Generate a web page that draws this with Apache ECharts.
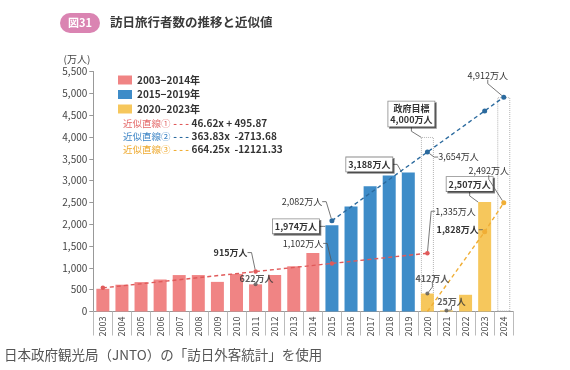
<!DOCTYPE html>
<html>
<head>
<meta charset="utf-8">
<script src="https://cdn.jsdelivr.net/npm/echarts@6/dist/echarts.min.js"></script>
<style>
html,body{margin:0;padding:0;background:#fff;}
#chart{width:570px;height:370px;}
</style>
</head>
<body>
<div id="chart"></div>
<script>
// ---------- data ----------
const years = ['2003','2004','2005','2006','2007','2008','2009','2010','2011','2012','2013','2014',
               '2015','2016','2017','2018','2019','2020','2021','2022','2023','2024'];
const years2003to2014 = ['2003','2004','2005','2006','2007','2008','2009','2010','2011','2012','2013','2014'];
const visitors2003to2014 = [521, 614, 673, 733, 835, 835, 679, 861, 622, 836, 1036, 1341];
const years2015to2019 = ['2015','2016','2017','2018','2019'];
const visitors2015to2019 = [1974, 2404, 2869, 3119, 3188];
const years2020to2023 = ['2020','2021','2022','2023'];
const visitors2020to2023 = [412, 25, 383, 2507];
const targetYears = ['2020','2024'];
const targetValues = [4000, 4912];
const trend1Years = ['2003','2011','2015','2020'];
const trend1Values = [542, 915, 1102, 1335];
const trend2Years = ['2015','2020','2023','2024'];
const trend2Values = [2082, 3654, 4597, 4912];
const trend3Years = ['2020','2023','2024'];
const trend3Values = [0, 1828, 2492];
const markedYears = ['2011','2020','2021'];
const markedValues = [622, 412, 25];
const periodNames = ['2003−2014年','2015−2019年','2020−2023年'];
const trendNames = ['近似直線①','近似直線②','近似直線③'];
const trendEquations = ['46.62x + 495.87','363.83x  -2713.68','664.25x  -12121.33'];
const titleText = '訪日旅行者数の推移と近似値';
const figureTag = '図31';
const sourceNote = '日本政府観光局（JNTO）の「訪日外客統計」を使用';
const targetLabelPrefix = '政府目標';
const unitText = '万人';

// ---------- annotation styling (label offsets from anchor, px) ----------
const annot = {
  'p2|2015':  {off: [-36, 1],   bold: true},
  'p2|2019':  {off: [-39, -8],  bold: true},
  'p3|2023':  {off: [-15, -18], bold: true},
  'tg|2020':  {off: [-16, -23], bold: true},
  't1|2011':  {off: [-25, -19], bold: true},
  't1|2015':  {off: [-29, -20], bold: false},
  't1|2020':  {off: [28, -42],  bold: false},
  't2|2015':  {off: [-30, -19], bold: false},
  't2|2020':  {off: [31, 5],    bold: false},
  't2|2024':  {off: [-16, -22], bold: false},
  't3|2023':  {off: [-27, -2],  bold: true},
  't3|2024':  {off: [-15, -32], bold: false},
  'mk|2011':  {off: [1, -6],    bold: true, noLine: true},
  'mk|2020':  {off: [5, -15],   bold: true},
  'mk|2021':  {off: [5, -9],    bold: true}
};

const FONT = "'Noto Sans CJK JP', 'Noto Sans', sans-serif";
const fmtNum = v => String(v).replace(/\B(?=(\d{3})+(?!\d))/g, ',');

function build(key, ys, vals, opts) {
  opts = opts || {};
  return years.map(y => {
    const i = ys.indexOf(y);
    if (i < 0) return null;
    const v = vals[i];
    const a = annot[key + '|' + y];
    const item = {value: v};
    if (opts.hideSymbolAt && opts.hideSymbolAt.indexOf(y) >= 0) item.symbol = 'none';
    if (a) {
      item.label = {show: true, fontWeight: a.bold ? 'bold' : 'normal'};
      if (a.noLine) item.labelLine = {show: false};
    }
    return item;
  });
}

function layoutFor(key, anchorTop) {
  return function (p) {
    const a = annot[key + '|' + years[p.dataIndex]];
    if (!a) return {};
    const r = p.rect;
    const cx = r.x + r.width / 2;
    const cy = anchorTop ? r.y : r.y + r.height / 2;
    return {x: cx + a.off[0], y: cy + a.off[1], align: 'center', verticalAlign: 'middle'};
  };
}

const plainLabel = {
  show: false, fontSize: 9, color: '#333', fontFamily: FONT,
  formatter: p => fmtNum(p.value) + unitText
};
const boxLabel = {
  show: false, fontSize: 9, color: '#333', fontFamily: FONT, fontWeight: 'bold',
  backgroundColor: '#fff', borderColor: '#8a8a8a', borderWidth: 0.8,
  padding: [2, 2, 1, 2], lineHeight: 11,
  shadowColor: 'rgba(0,0,0,0.45)', shadowOffsetX: 1.5, shadowOffsetY: 1.5, shadowBlur: 0,
  formatter: p => fmtNum(p.value) + unitText
};
const guide = {show: true, length2: 4, lineStyle: {color: '#555', width: 0.8}};

const colors = {
  red: '#f08484', blue: '#3e8cc8', yellow: '#f6c75c',
  redLine: '#e05a5a', blueLine: '#2b6a9e', orangeLine: '#f0ae35',
  redText: '#e46a6a', blueText: '#3f86c6', orangeText: '#eeaa30'
};

const chart = echarts.init(document.getElementById('chart'), null, {renderer: 'canvas'});

const option = {
  animation: false,
  textStyle: {fontFamily: FONT},
  title: [
    {text: titleText, left: 110, top: 16, padding: 0,
     textStyle: {fontSize: 12.5, fontWeight: 'bold', color: '#3a3a3a', fontFamily: FONT}},
    {text: sourceNote, left: 4, top: 348, padding: 0,
     textStyle: {fontSize: 13.5, fontWeight: 'normal', color: '#555', fontFamily: FONT}}
  ],
  graphic: [{
    type: 'group', left: 60, top: 13,
    children: [
      {type: 'rect', shape: {x: 0, y: 0, width: 40, height: 20, r: 10}, style: {fill: '#da84b2'}},
      {type: 'text', x: 20, y: 10,
       style: {text: figureTag, fill: '#fff', font: "bold 11px 'Noto Sans CJK JP'", align: 'center', verticalAlign: 'middle'}}
    ]
  }],
  legend: [
    {
      data: periodNames, orient: 'vertical', left: 113, top: 69,
      icon: 'rect', itemWidth: 14, itemHeight: 9, itemGap: 2.5, selectedMode: false,
      textStyle: {fontSize: 10, fontWeight: 'bold', color: '#333', lineHeight: 12, fontFamily: FONT}
    },
    {
      data: trendNames, orient: 'vertical', left: 112, top: 112,
      itemWidth: 0, itemHeight: 0, itemGap: 1, selectedMode: false,
      itemStyle: {opacity: 0}, lineStyle: {opacity: 0},
      formatter: name => {
        const i = trendNames.indexOf(name);
        return '{n' + i + '|' + name + '} {d' + i + '|- - -} {e|' + trendEquations[i] + '}';
      },
      textStyle: {
        fontFamily: FONT, lineHeight: 12,
        rich: {
          n0: {color: colors.redText, fontSize: 9.5, lineHeight: 12, fontFamily: FONT},
          n1: {color: colors.blueText, fontSize: 9.5, lineHeight: 12, fontFamily: FONT},
          n2: {color: colors.orangeText, fontSize: 9.5, lineHeight: 12, fontFamily: FONT},
          d0: {color: colors.redLine, fontSize: 10, fontWeight: 'bold', lineHeight: 12},
          d1: {color: colors.blueLine, fontSize: 10, fontWeight: 'bold', lineHeight: 12},
          d2: {color: colors.orangeLine, fontSize: 10, fontWeight: 'bold', lineHeight: 12},
          e: {color: '#333', fontSize: 10, fontWeight: 'bold', lineHeight: 12, fontFamily: FONT}
        }
      }
    }
  ],
  grid: {left: 93.3, top: 71.5, width: 420, height: 240, containLabel: false},
  xAxis: {
    type: 'category', data: years, boundaryGap: true,
    axisLine: {show: true, lineStyle: {color: '#999', width: 1}},
    axisTick: {show: true, interval: 0, length: 24, lineStyle: {color: '#bbb'}},
    axisLabel: {interval: 0, rotate: 90, fontSize: 9, color: '#444', margin: 5, fontFamily: FONT}
  },
  yAxis: {
    type: 'value', min: 0, max: 5500, interval: 500,
    name: '(万人)', nameLocation: 'end', nameGap: 7,
    nameTextStyle: {fontSize: 10, color: '#444', align: 'right', padding: [0, 3, 0, 0], fontFamily: FONT},
    axisLine: {show: true, lineStyle: {color: '#999'}},
    axisTick: {show: true, length: 4, lineStyle: {color: '#999'}},
    axisLabel: {fontSize: 10, color: '#444', margin: 6, formatter: v => fmtNum(v), fontFamily: FONT},
    splitLine: {show: false}
  },
  series: [
    {
      name: 'target', type: 'bar', barWidth: 13, barGap: '-100%', silent: true, z: 1,
      data: build('tg', targetYears, targetValues),
      itemStyle: {color: 'rgba(0,0,0,0)', borderColor: '#b5b5b5', borderWidth: 1, borderType: 'dotted'},
      label: Object.assign({}, boxLabel, {formatter: p => targetLabelPrefix + '\n' + fmtNum(p.value) + unitText, align: 'center'}),
      labelLine: guide, labelLayout: layoutFor('tg', true)
    },
    {
      name: periodNames[0], type: 'bar', barWidth: 13, barGap: '-100%', z: 2,
      data: build('p1', years2003to2014, visitors2003to2014),
      itemStyle: {color: colors.red}
    },
    {
      name: periodNames[1], type: 'bar', barWidth: 13, barGap: '-100%', z: 2,
      data: build('p2', years2015to2019, visitors2015to2019),
      itemStyle: {color: colors.blue},
      label: boxLabel, labelLine: guide, labelLayout: layoutFor('p2', true)
    },
    {
      name: periodNames[2], type: 'bar', barWidth: 13, barGap: '-100%', z: 2,
      data: build('p3', years2020to2023, visitors2020to2023),
      itemStyle: {color: colors.yellow},
      label: boxLabel, labelLine: guide, labelLayout: layoutFor('p3', true)
    },
    {
      name: trendNames[0], type: 'line', connectNulls: true, z: 4,
      data: build('t1', trend1Years, trend1Values),
      symbol: 'circle', symbolSize: 4.5, showSymbol: true,
      lineStyle: {color: colors.redLine, width: 1.4, type: [4, 3]},
      itemStyle: {color: colors.redLine},
      label: plainLabel, labelLine: guide, labelLayout: layoutFor('t1', false)
    },
    {
      name: trendNames[1], type: 'line', connectNulls: true, z: 4,
      data: build('t2', trend2Years, trend2Values),
      symbol: 'circle', symbolSize: 5, showSymbol: true,
      lineStyle: {color: colors.blueLine, width: 1.4, type: [4, 3]},
      itemStyle: {color: colors.blueLine},
      label: plainLabel, labelLine: guide, labelLayout: layoutFor('t2', false)
    },
    {
      name: trendNames[2], type: 'line', connectNulls: true, z: 4,
      data: build('t3', trend3Years, trend3Values, {hideSymbolAt: ['2020']}),
      symbol: 'circle', symbolSize: 5, showSymbol: true,
      lineStyle: {color: colors.orangeLine, width: 1.4, type: [4, 3]},
      itemStyle: {color: colors.orangeLine},
      label: plainLabel, labelLine: guide, labelLayout: layoutFor('t3', false)
    },
    {
      name: 'marked', type: 'scatter', z: 5, silent: true,
      data: build('mk', markedYears, markedValues),
      symbol: 'circle', symbolSize: 4, itemStyle: {color: '#555'},
      label: plainLabel, labelLine: guide, labelLayout: layoutFor('mk', false)
    }
  ]
};

chart.setOption(option);
</script>
</body>
</html>
